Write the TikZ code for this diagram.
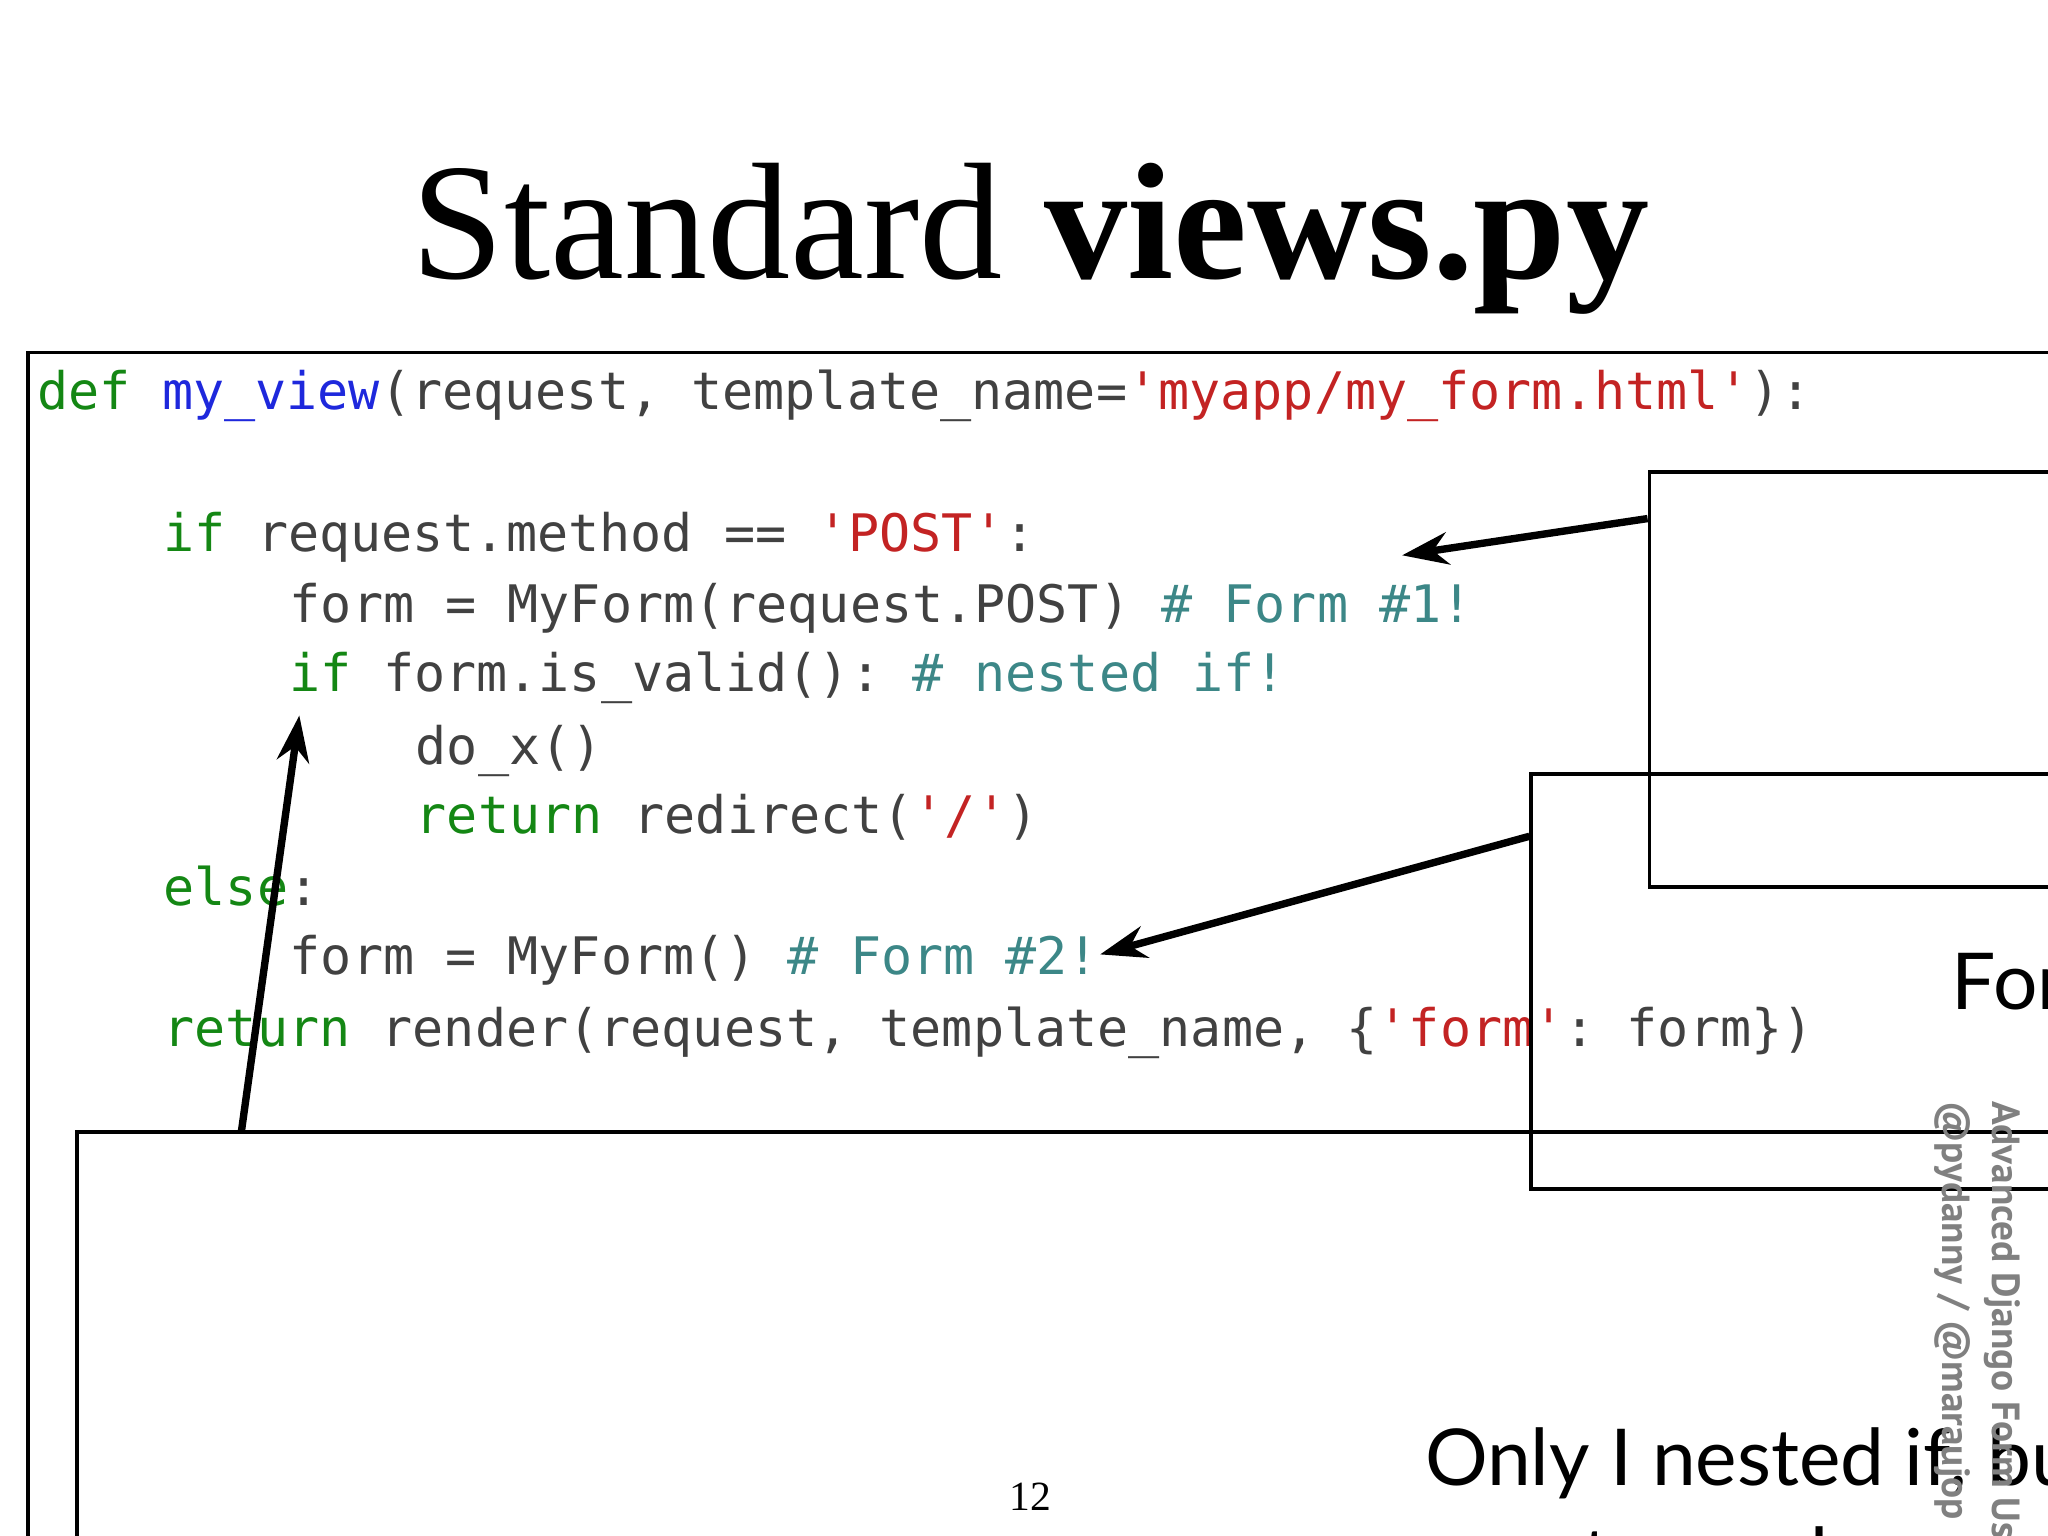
\documentclass[tikz,border=0pt]{standalone}
\usepackage{fontspec}
\usetikzlibrary{arrows.meta}
\setmainfont{Liberation Serif}
\setmonofont{DejaVu Sans Mono}
\newfontfamily\gill{Lato}
\newfontfamily\narrow{PT Sans}
\definecolor{kw}{RGB}{20,135,20}
\definecolor{fn}{RGB}{30,40,220}
\definecolor{st}{RGB}{195,35,35}
\definecolor{cm}{RGB}{60,135,135}
\definecolor{tx}{RGB}{65,65,65}
\newcommand{\K}[1]{\textcolor{kw}{#1}}
\newcommand{\F}[1]{\textcolor{fn}{#1}}
\newcommand{\Sg}[1]{\textcolor{st}{#1}}
\newcommand{\C}[1]{\textcolor{cm}{#1}}
\begin{document}
\begin{tikzpicture}[x=0.01cm,y=-0.01cm,
  code/.style={anchor=base west,inner sep=0,font=\ttfamily\fontsize{11.2pt}{13pt}\selectfont,text=tx},
  lbl/.style={draw,line width=0.8pt,inner sep=0,font=\gill\fontsize{17pt}{20pt}\selectfont},
  arr/.style={-{Stealth[length=10pt,width=7pt]},line width=1.6pt}]
\useasboundingbox (0,0) rectangle (1560,1170);
\node[font=\fontsize{36pt}{40pt}\selectfont,anchor=base] (title) at (785,212) {Standard \textbf{views.py}};
\node[draw,line width=0.8pt,minimum width=1525,minimum height=548,anchor=north west,inner sep=0] (box) at (20,267) {};
\node[code] (l1) at (28,312) {\K{def} \F{my\_view}(request, template\_name=\Sg{'myapp/my\_form.html'}):};
\node[code] (l3) at (124,420) {\K{if} request.method == \Sg{'POST'}:};
\node[code] (l4) at (220,474) {form = MyForm(request.POST) \C{\# Form \#1!}};
\node[code] (l5) at (220,527) {\K{if} form.is\_valid(): \C{\# nested if!}};
\node[code] (l6) at (316,582) {do\_x()};
\node[code] (l7) at (316,635) {\K{return} redirect(\Sg{'/'})};
\node[code] (l8) at (124,690) {\K{else}:};
\node[code] (l9) at (220,742) {form = MyForm() \C{\# Form \#2!}};
\node[code] (l10) at (124,797) {\K{return} render(request, template\_name, \{\Sg{'form'}: form\})};
\node[lbl,minimum width=245,minimum height=90,anchor=north west] (f1) at (1255,358) {Form \#I};
\node[lbl,minimum width=245,minimum height=90,anchor=north west] (f2) at (1165,588) {Form \#2};
\node[lbl,minimum width=803,minimum height=165,anchor=north west,align=center,font=\gill\fontsize{17pt}{21.5pt}\selectfont] (nb) at (57,861) {Only I nested if, but real code\\gets much more complex};
\coordinate (a1) at (1068,423);
\coordinate (a2) at (838,727);
\coordinate (a3) at (228,545);
\coordinate (s3) at (184,861);
\coordinate (s1) at (1255,395);
\coordinate (s2) at (1165,637);
\draw[arr] (s1) -- (a1);
\draw[arr] (s2) -- (a2);
\draw[arr] (s3) -- (a3);
\node[font=\fontsize{9pt}{10pt}\selectfont] (pg) at (785,1140) {12};
\node[rotate=-90,anchor=north west,inner sep=0,text=gray,font=\narrow\bfseries\fontsize{8.5pt}{11pt}\selectfont,align=left] (side) at (1540,838) {Advanced Django Form Usage\\\hspace*{0pt}@pydanny / @maraujop};
\end{tikzpicture}
\end{document}
